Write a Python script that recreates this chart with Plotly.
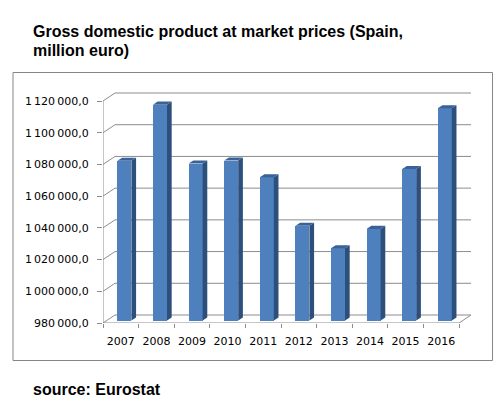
import plotly.graph_objects as go

# ---------------- data ----------------
years = ["2007", "2008", "2009", "2010", "2011", "2012", "2013", "2014", "2015", "2016"]
gdp = [1080800, 1116200, 1079000, 1080900, 1070400, 1039800, 1025600, 1037800, 1075600, 1113900]
y_ticks = [980000, 1000000, 1020000, 1040000, 1060000, 1080000, 1100000, 1120000]
y_ticktext = ["980\u2009000,0", "1\u2009000\u2009000,0", "1\u2009020\u2009000,0", "1\u2009040\u2009000,0",
              "1\u2009060\u2009000,0", "1\u2009080\u2009000,0", "1\u2009100\u2009000,0", "1\u2009120\u2009000,0"]
title_line1 = "Gross domestic product at market prices (Spain,"
title_line2 = "million euro)"
source_text = "source: Eurostat"

# ---------------- layout geometry (pixels) ----------------
W, H = 504, 405
PL, PR = 103, 471          # plot area left/right (front axis left .. back wall right)
PT, PB = 91, 323           # plot area top/bottom
FRONT_R = 459              # front x-axis end
FRONT_TOP = 101            # pixel of top tick on the front axis
DEPTH_PX_X, DEPTH_PX_Y = 12, 8

ymin, ymax_front = y_ticks[0], y_ticks[-1]
y_per_px = (ymax_front - ymin) / (PB - FRONT_TOP)
x_per_px = len(years) / (FRONT_R - PL)
xr = [-0.5, -0.5 + (PR - PL) * x_per_px]
yr = [ymin, ymin + (PB - PT) * y_per_px]
DXU = DEPTH_PX_X * x_per_px
DYU = DEPTH_PX_Y * y_per_px

def px_x(p):
    return (p - PL) / (PR - PL)

def px_y(p):
    return (PB - p) / (PB - PT)

grid_col = "#8c8c8c"
front_col = "#4d80bd"
side_col = "#2d4f7c"
top_col = "#3a6298"

d0, d1 = 0.3, 0.69
bar_w = 14 * x_per_px
xs = list(range(len(years)))

fig = go.Figure()

# front faces of bars
fig.add_trace(go.Bar(
    x=[i + d0 * DXU for i in xs],
    y=[v - ymin for v in gdp],
    base=[ymin + d0 * DYU] * len(gdp),
    width=bar_w,
    marker=dict(color=front_col, line=dict(width=0)),
    hoverinfo="skip", showlegend=False,
))

# side and top faces
ddx, ddy = (d1 - d0) * DXU, (d1 - d0) * DYU
sx, sy, tx, ty = [], [], [], []
for i, v in zip(xs, gdp):
    xl = i + d0 * DXU - bar_w / 2
    xrr = i + d0 * DXU + bar_w / 2
    b0 = ymin + d0 * DYU
    t0 = v + d0 * DYU
    sx += [xrr, xrr, xrr + ddx, xrr + ddx, xrr, None]
    sy += [b0, t0, t0 + ddy, b0 + ddy, b0, None]
    tx += [xl, xrr, xrr + ddx, xl + ddx, xl, None]
    ty += [t0, t0, t0 + ddy, t0 + ddy, t0, None]
fig.add_trace(go.Scatter(x=sx, y=sy, mode="lines", fill="toself", fillcolor=side_col,
                         line=dict(width=0, color=side_col), hoverinfo="skip", showlegend=False))
fig.add_trace(go.Scatter(x=tx, y=ty, mode="lines", fill="toself", fillcolor=top_col,
                         line=dict(width=0, color=top_col), hoverinfo="skip", showlegend=False))

shapes = []
# back wall gridlines + side-wall diagonals
for t in y_ticks:
    shapes.append(dict(type="line", xref="x", yref="y", x0=-0.5, y0=t, x1=-0.5 + DXU, y1=t + DYU,
                       line=dict(color=grid_col, width=1), layer="below"))
    shapes.append(dict(type="line", xref="x", yref="y", x0=-0.5 + DXU, y0=t + DYU, x1=xr[1], y1=t + DYU,
                       line=dict(color=grid_col, width=1), layer="below"))
# floor right diagonal
shapes.append(dict(type="line", xref="x", yref="y", x0=len(years) - 0.5, y0=ymin,
                   x1=len(years) - 0.5 + DXU, y1=ymin + DYU, line=dict(color=grid_col, width=1), layer="below"))
# front axes lines
shapes.append(dict(type="line", xref="x", yref="y", x0=-0.5, y0=ymin, x1=-0.5, y1=ymax_front,
                   line=dict(color=grid_col, width=1), layer="below"))
shapes.append(dict(type="line", xref="x", yref="y", x0=-0.5, y0=ymin, x1=len(years) - 0.5, y1=ymin,
                   line=dict(color=grid_col, width=1), layer="below"))
# outer chart border
shapes.append(dict(type="rect", xref="paper", yref="paper", x0=px_x(13), y0=px_y(360.5),
                   x1=px_x(492.5), y1=px_y(72.5), line=dict(color="#868686", width=1), layer="below"))

tfont = dict(family="Liberation Sans, Arial, sans-serif", size=16, color="black")
annotations = [
    dict(text="<b>%s</b>" % title_line1, xref="paper", yref="paper", x=px_x(31), y=px_y(31),
         xanchor="left", yanchor="middle", showarrow=False, font=tfont),
    dict(text="<b>%s</b>" % title_line2, xref="paper", yref="paper", x=px_x(31), y=px_y(50),
         xanchor="left", yanchor="middle", showarrow=False, font=tfont),
    dict(text="<b>%s</b>" % source_text, xref="paper", yref="paper", x=px_x(31), y=px_y(389),
         xanchor="left", yanchor="middle", showarrow=False, font=tfont),
]

afont = dict(family="DejaVu Sans, Verdana, sans-serif", size=11, color="black")
fig.update_layout(
    width=W, height=H,
    margin=dict(l=PL, r=W - PR, t=PT, b=H - PB, pad=0, autoexpand=False),
    paper_bgcolor="white", plot_bgcolor="white",
    showlegend=False,
    bargap=0,
    shapes=shapes,
    annotations=annotations,
    xaxis=dict(range=xr, tickmode="array", tickvals=xs, ticktext=years, ticks="",
               showgrid=False, zeroline=False, showline=False, tickfont=afont, automargin=False,
               ticklabelstandoff=10,
               minor=dict(tickmode="array", tickvals=[i - 0.5 for i in range(len(years) + 1)],
                          ticks="outside", ticklen=4, tickcolor=grid_col, showgrid=False),
               fixedrange=True),
    yaxis=dict(range=yr, tickmode="array", tickvals=y_ticks, ticktext=y_ticktext,
               ticks="outside", ticklen=5, tickcolor=grid_col, showgrid=False, zeroline=False,
               showline=False, tickfont=afont, automargin=False, ticklabelstandoff=6,
               fixedrange=True),
)

fig.write_html("out.html", config={"displayModeBar": False},
               post_script="document.body.style.margin='0';document.body.style.overflow='hidden';")
